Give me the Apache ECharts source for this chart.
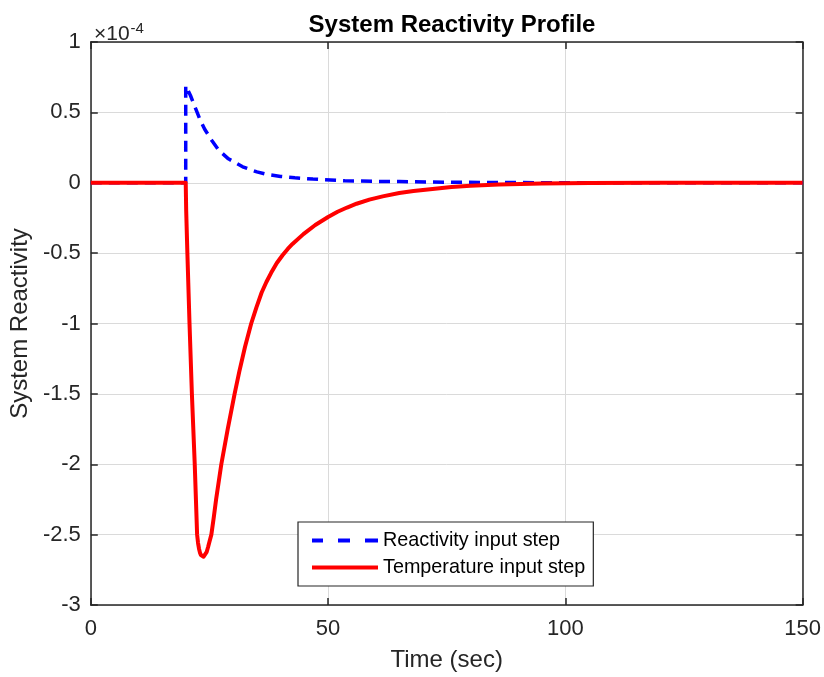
<!DOCTYPE html>
<html>
<head>
<meta charset="utf-8">
<script src="https://cdn.jsdelivr.net/npm/echarts@6/dist/echarts.min.js"></script>
<style>html,body{margin:0;padding:0;background:#fff}#c{width:824px;height:677px}</style>
</head>
<body>
<div id="c"></div>
<script>
// Values in units of 1e-4
const xTicks = [0, 50, 100, 150];
const yTicks = [-3, -2.5, -2, -1.5, -1, -0.5, 0, 0.5, 1];
const reactivityT = [0, 20, 20, 21, 21.7, 23, 24, 25.5, 27, 29, 32, 35, 37, 40, 43, 46.8, 49, 53.5, 60, 65, 75, 90, 100, 150];
const reactivityV = [0, 0, 0.69, 0.62, 0.56, 0.45, 0.38, 0.30, 0.23, 0.17, 0.113, 0.077, 0.06, 0.045, 0.035, 0.026, 0.022, 0.014, 0.010, 0.008, 0.004, 0.001, 0, 0];
const temperatureT = [0, 20, 20.1, 20.35, 20.8, 21.3, 21.9, 22.15, 22.4, 22.6, 22.8, 23.0, 23.2, 23.45, 23.77, 24.1, 24.4, 24.7, 25.0, 25.4, 25.9, 26.4, 27.5, 28.85, 30.3, 31.3, 32.5, 33.8, 34.9, 36, 37, 38, 39.2, 40.4, 41.5, 42.5, 44.8, 47.3, 50, 52, 54, 56, 58.7, 61.5, 65, 68, 72, 76, 80, 86, 95, 105, 120, 150];
const temperatureV = [0, 0, -0.2, -0.5, -1.0, -1.5, -2.0, -2.25, -2.5, -2.56, -2.6, -2.628, -2.645, -2.655, -2.657, -2.648, -2.625, -2.59, -2.55, -2.5, -2.38, -2.25, -2.0, -1.75, -1.5, -1.34, -1.165, -1.0, -0.885, -0.78, -0.705, -0.64, -0.57, -0.515, -0.47, -0.435, -0.365, -0.3, -0.243, -0.206, -0.176, -0.149, -0.12, -0.097, -0.073, -0.058, -0.044, -0.031, -0.022, -0.012, -0.005, -0.002, 0, 0];
const seriesNames = ['Reactivity input step', 'Temperature input step'];

const zip = (a, b) => a.map((v, i) => [v, b[i]]);
const font = "'Liberation Sans', Arial, sans-serif";
const txt = '#262626';
const axisLine = {show: true, onZero: false, lineStyle: {color: txt, width: 1.5}};
const axisTick = {show: true, inside: true, length: 7, lineStyle: {color: txt, width: 1.5}};

const chart = echarts.init(document.getElementById('c'), null, {renderer: 'canvas'});
chart.setOption({
  animation: false,
  backgroundColor: '#fff',
  title: [{
    text: 'System Reactivity Profile',
    left: 447, top: 8, textAlign: 'center',
    textStyle: {fontFamily: font, fontSize: 24, fontWeight: 'bold', color: '#000'}
  }, {
    text: '×10{s|-4}',
    left: 89, top: 16,
    textStyle: {fontFamily: font, fontSize: 21, fontWeight: 'normal', color: txt,
      rich: {s: {fontFamily: font, fontSize: 15, fontWeight: 'normal', color: txt, verticalAlign: 'top', padding: [0, 0, 12, 1]}}}
  }],
  grid: {left: 90, right: 19, top: 42, bottom: 70, show: false},
  legend: {
    orient: 'vertical', left: 298, top: 522,
    backgroundColor: '#fff', borderColor: txt, borderWidth: 1.2, borderRadius: 0,
    padding: [8, 8, 8, 14], itemGap: 6, itemWidth: 66, itemHeight: 4,
    textStyle: {fontFamily: font, fontSize: 19.8, color: '#000', lineHeight: 21},
    data: [
      {name: seriesNames[0], icon: 'path://M0,0h11v4h-11z M26,0h12v4h-12z M53,0h13v4h-13z'},
      {name: seriesNames[1], icon: 'path://M0,0h66v4h-66z'}
    ]
  },
  xAxis: [{
    type: 'value', min: 0, max: 150, interval: 50,
    name: 'Time (sec)', nameLocation: 'middle', nameGap: 43,
    nameTextStyle: {fontFamily: font, fontSize: 24, color: txt},
    axisLine, axisTick,
    axisLabel: {fontFamily: font, fontSize: 22, color: txt, margin: 13,
      formatter: v => xTicks.includes(v) ? String(v) : ''},
    splitLine: {show: true, lineStyle: {color: '#dadada', width: 1}}
  }, {
    type: 'value', min: 0, max: 150, interval: 50, position: 'top',
    axisLine, axisTick,
    axisLabel: {show: false}, splitLine: {show: false}
  }],
  yAxis: [{
    type: 'value', min: -3, max: 1, interval: 0.5,
    name: 'System Reactivity', nameLocation: 'middle', nameGap: 56,
    nameTextStyle: {fontFamily: font, fontSize: 24, color: txt},
    axisLine, axisTick,
    axisLabel: {fontFamily: font, fontSize: 22, color: txt, margin: 10,
      formatter: v => yTicks.includes(v) ? String(v) : ''},
    splitLine: {show: true, lineStyle: {color: '#dadada', width: 1}}
  }, {
    type: 'value', min: -3, max: 1, interval: 0.5, position: 'right',
    axisLine, axisTick,
    axisLabel: {show: false}, splitLine: {show: false}
  }],
  series: [{
    name: seriesNames[0], type: 'line', showSymbol: false, symbol: 'none',
    data: zip(reactivityT, reactivityV), z: 2,
    lineStyle: {color: '#0000ff', width: 3.5, type: [11, 7]},
    itemStyle: {color: '#0000ff'}
  }, {
    name: seriesNames[1], type: 'line', showSymbol: false, symbol: 'none',
    data: zip(temperatureT, temperatureV), z: 3, smooth: false,
    lineStyle: {color: '#ff0000', width: 4, join: 'round'},
    itemStyle: {color: '#ff0000'}
  }]
});
</script>
</body>
</html>
